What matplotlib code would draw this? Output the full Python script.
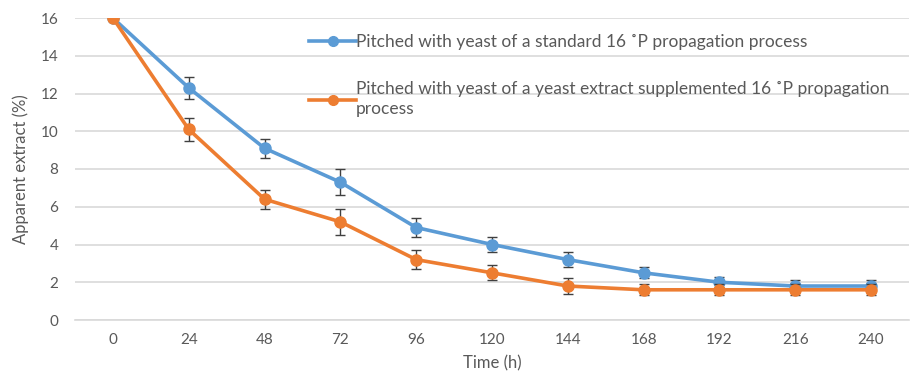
import matplotlib
matplotlib.use("Agg")
import matplotlib.pyplot as plt

plt.rcParams['font.family'] = ['Lato', 'DejaVu Sans']

# sampling times (h)
time_h = [0, 24, 48, 72, 96, 120, 144, 168, 192, 216, 240]

# apparent extract (%) and standard deviations
standard = [16.0, 12.3, 9.1, 7.3, 4.9, 4.0, 3.2, 2.5, 2.0, 1.8, 1.8]
standard_err = [0.0, 0.6, 0.5, 0.7, 0.5, 0.4, 0.4, 0.3, 0.3, 0.3, 0.3]
supplemented = [16.0, 10.1, 6.4, 5.2, 3.2, 2.5, 1.8, 1.6, 1.6, 1.6, 1.6]
supplemented_err = [0.0, 0.6, 0.5, 0.7, 0.5, 0.4, 0.4, 0.3, 0.3, 0.3, 0.3]

labels = ["Pitched with yeast of a standard 16 \u02daP propagation process",
          "Pitched with yeast of a yeast extract supplemented 16 \u02daP propagation\nprocess"]

blue = "#5B9BD5"
orange = "#ED7D31"
grey_text = "#595959"

fig = plt.figure(figsize=(9.16, 3.85), dpi=100)
ax = fig.add_axes([75 / 916, 65 / 385, 834 / 916, 302 / 385])

ax.errorbar(time_h, standard, yerr=standard_err, color=blue, lw=2.6,
            marker="o", ms=8, ecolor="#404040", elinewidth=1, capsize=3.5,
            capthick=1, label=labels[0], zorder=3)
ax.errorbar(time_h, supplemented, yerr=supplemented_err, color=orange, lw=2.6,
            marker="o", ms=8, ecolor="#404040", elinewidth=1, capsize=3.5,
            capthick=1, label=labels[1], zorder=4)

ax.set_xlim(-12, 252)
ax.set_ylim(0, 16)
ax.set_xticks(time_h)
ax.set_yticks(range(0, 17, 2))
ax.grid(axis="y", color="#d9d9d9", lw=1.2)
ax.set_axisbelow(True)
for side in ["top", "right", "left"]:
    ax.spines[side].set_visible(False)
ax.spines["bottom"].set_color("#d9d9d9")
ax.spines["bottom"].set_linewidth(1.2)
ax.tick_params(length=0, labelsize=11, colors=grey_text, pad=9)
ax.tick_params(axis="y", pad=12)

ax.set_xlabel("Time (h)", fontsize=12, color=grey_text, labelpad=6)
ax.set_ylabel("Apparent extract (%)", fontsize=12, color=grey_text, labelpad=8)

handles, lbls = ax.get_legend_handles_labels()
handles = [h[0] for h in handles]
leg = ax.legend(handles, lbls, loc="upper left", bbox_to_anchor=(0.262, 1.0),
                frameon=False, fontsize=12.5, labelspacing=1.8,
                handlelength=2.7, handletextpad=0.0, labelcolor=grey_text)
for line in leg.get_lines():
    line.set_markersize(7)
leg.get_texts()[1].set_linespacing(1.35)

fig.savefig("out.png", dpi=100)
